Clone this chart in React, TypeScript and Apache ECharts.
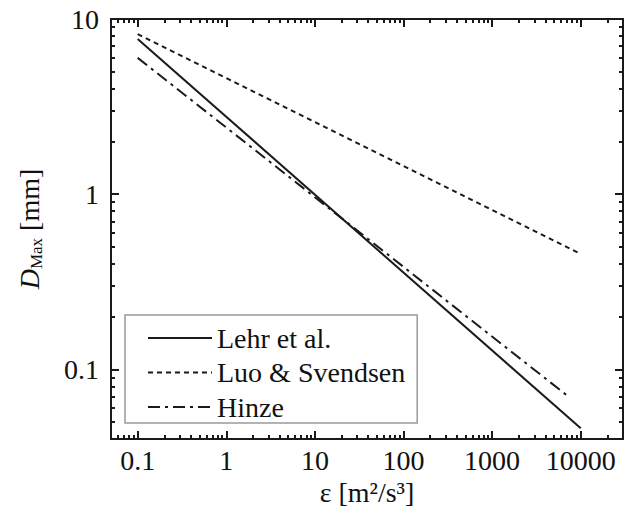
import React, { useEffect, useRef } from "react";
import * as echarts from "echarts";

// Tick values
const xMajorTicks = [0.1, 1, 10, 100, 1000, 10000];
const yMajorTicks = [0.1, 1, 10];
const minorMultipliers = [2, 3, 4, 5, 6, 7, 8, 9];
const xDecades = [0.01, 0.1, 1, 10, 100, 1000, 10000];
const yDecades = [0.01, 0.1, 1];

// Series
const lehrX = [0.1, 10000];
const lehrY = [7.7, 0.046];
const luoX = [0.1, 10000];
const luoY = [8.2, 0.456];
const hinzeX = [0.1, 7500];
const hinzeY = [6.0, 0.069];

const X_MIN = 0.05, X_MAX = 30000, Y_MIN = 0.04, Y_MAX = 10;
const FONT = "Liberation Serif";

const minorOf = (decades: number[], lo: number, hi: number) => {
  const out: number[] = [];
  decades.forEach((d) => minorMultipliers.forEach((m) => {
    const v = +(d * m).toPrecision(6);
    if (v > lo && v < hi) out.push(v);
  }));
  return out;
};

const zip = (a: number[], b: number[]) => a.map((v, i) => [v, b[i]]);

export default function App() {
  const ref = useRef<HTMLDivElement>(null);
  useEffect(() => {
    document.body.style.margin = "0";
    const chart = echarts.init(ref.current!, null, { renderer: "svg" });
    const xMinor = minorOf(xDecades, X_MIN, X_MAX);
    const yMinor = minorOf(yDecades, Y_MIN, Y_MAX);
    const lineC = "#1a1a1a";
    const txtC = "#111";
    const baseAxis = (type: "x" | "y", pos: string, major: boolean, show: boolean) => ({
      type: "log",
      logBase: 10,
      min: type === "x" ? X_MIN : Y_MIN,
      max: type === "x" ? X_MAX : Y_MAX,
      position: pos,
      splitLine: { show: false },
      axisLine: { show: show, onZero: false, lineStyle: { color: lineC, width: 2 } },
      axisTick: {
        show: true,
        inside: true,
        length: major ? 8 : 4,
        lineStyle: { color: lineC, width: 2 },
        customValues: major
          ? (type === "x" ? xMajorTicks : yMajorTicks)
          : (type === "x" ? xMinor : yMinor),
      },
      axisLabel: { show: false },
    });
    const xMain: any = baseAxis("x", "bottom", true, true);
    xMain.axisLabel = {
      show: true,
      customValues: xMajorTicks,
      formatter: (v: number) => String(v),
      fontFamily: FONT,
      fontSize: 28,
      color: txtC,
      margin: 7,
    };
    xMain.name = "ε [m²/s³]";
    xMain.nameLocation = "middle";
    xMain.nameGap = 31;
    xMain.nameTextStyle = { fontFamily: FONT, fontSize: 28, color: txtC };

    const yMain: any = baseAxis("y", "left", true, true);
    yMain.axisLabel = {
      show: true,
      customValues: yMajorTicks,
      formatter: (v: number) => String(v),
      fontFamily: FONT,
      fontSize: 28,
      color: txtC,
      margin: 12,
    };
    yMain.name = "{i|D}{s|Max}{n| [mm]}";
    yMain.nameLocation = "middle";
    yMain.nameGap = 66;
    yMain.nameTextStyle = {
      fontFamily: FONT,
      fontSize: 28,
      color: txtC,
      rich: {
        i: { fontFamily: FONT, fontSize: 28, fontStyle: "italic", color: txtC },
        s: { fontFamily: FONT, fontSize: 17, color: txtC, padding: [14, 0, 0, 0] },
        n: { fontFamily: FONT, fontSize: 28, color: txtC },
      },
    };

    const seriesBase = {
      type: "line",
      symbol: "none",
      showSymbol: false,
      xAxisIndex: 0,
      yAxisIndex: 0,
      color: lineC,
    };

    chart.setOption({
      animation: false,
      backgroundColor: "#fff",
      grid: { left: 111, top: 19, right: 3, bottom: 88, containLabel: false },
      xAxis: [
        xMain,
        baseAxis("x", "bottom", false, false),
        baseAxis("x", "top", true, true),
        baseAxis("x", "top", false, false),
      ],
      yAxis: [
        yMain,
        baseAxis("y", "left", false, false),
        baseAxis("y", "right", true, true),
        baseAxis("y", "right", false, false),
      ],
      legend: {
        orient: "vertical",
        left: 125,
        top: 315,
        backgroundColor: "#fff",
        borderColor: "#9a9a9a",
        borderWidth: 1.5,
        borderRadius: 0,
        padding: [9, 12, 2, 22],
        itemWidth: 64,
        itemHeight: 14,
        itemGap: 6.5,
        itemStyle: { opacity: 0 },
        textStyle: { fontFamily: FONT, fontSize: 28, color: txtC, lineHeight: 28 },
        data: ["Lehr et al.", "Luo & Svendsen", "Hinze"],
      },
      series: [
        { ...seriesBase, name: "Lehr et al.", data: zip(lehrX, lehrY), lineStyle: { color: lineC, width: 2, type: "solid" } },
        { ...seriesBase, name: "Luo & Svendsen", data: zip(luoX, luoY), lineStyle: { color: lineC, width: 2, type: [5, 4] } },
        { ...seriesBase, name: "Hinze", data: zip(hinzeX, hinzeY), lineStyle: { color: lineC, width: 2, type: [12, 5, 3, 5] } },
      ],
    });
    return () => chart.dispose();
  }, []);
  return <div ref={ref} style={{ width: 626, height: 527 }} />;
}
